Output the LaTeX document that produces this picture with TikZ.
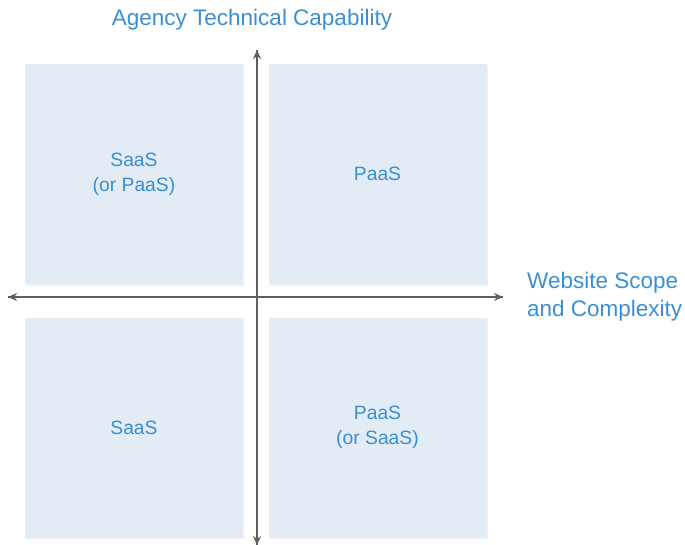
\documentclass[tikz,border=0pt]{standalone}
\usepackage{fontspec}
\setmainfont{Liberation Sans}
\usepackage{xcolor}
\usetikzlibrary{arrows.meta,shadows}

\definecolor{quadfill}{HTML}{E3EBF5}
\definecolor{labelblue}{HTML}{3A8FD3}
\definecolor{axisgray}{HTML}{5E5E5E}

\begin{document}
\begin{tikzpicture}[x=1pt,y=-1pt]
\tikzstyle{quad}=[fill=quadfill, minimum width=218pt, minimum height=220pt, inner sep=0pt,
  text=labelblue, font=\fontsize{19.3}{25}\selectfont, align=center,
  drop shadow={shadow xshift=1pt, shadow yshift=-1.5pt, opacity=0.12}]
\tikzstyle{axislabel}=[text=labelblue, font=\fontsize{22.5}{28}\selectfont, inner sep=0pt]
\tikzstyle{axis}=[draw=axisgray, line width=1.9pt, -{Stealth[length=9pt,width=8pt]}]
\useasboundingbox (0,0) rectangle (685,544);
% quadrants
\node [quad] (topleft) at (134,174) {SaaS\\(or PaaS)};
\node [quad] (topright) at (377.5,174) {PaaS};
\node [quad] (bottomleft) at (134,427.5) {SaaS};
\node [quad] (bottomright) at (377.5,427.5) {PaaS\\(or SaaS)};
% axes
\coordinate (west) at (8,297);
\coordinate (east) at (503,297);
\coordinate (north) at (257,50);
\coordinate (south) at (257,545);
\draw [axis] (north) -- (south);
\draw [axis] (south) -- (north);
\draw [axis] (east) -- (west);
\draw [axis] (west) -- (east);
% labels
\node [axislabel] (capability) at (252,20) {Agency Technical Capability};
\node [axislabel, anchor=west, align=left] (complexity) at (527,297) {Website Scope\\and Complexity};
\end{tikzpicture}
\end{document}
